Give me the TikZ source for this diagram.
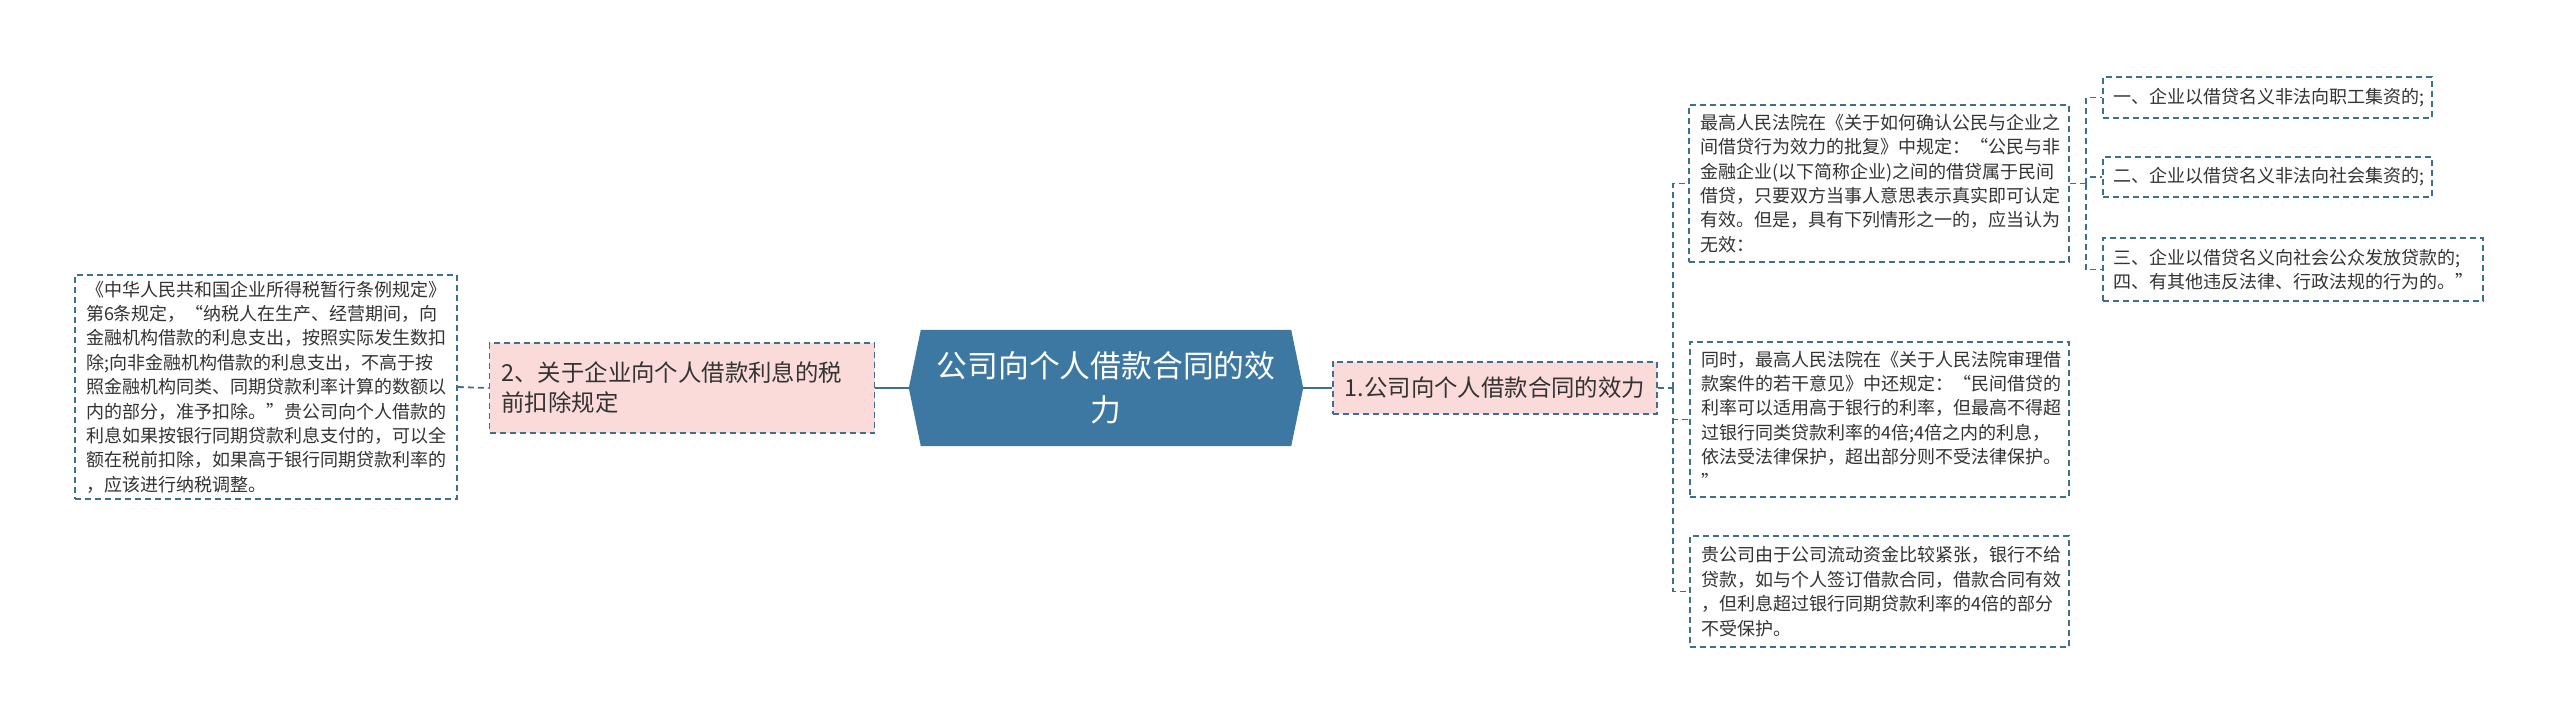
\documentclass[tikz,border=0pt]{standalone}
\usepackage{fontspec}
\setmainfont{Noto Sans CJK SC}
\usetikzlibrary{backgrounds}
\definecolor{linec}{HTML}{3D6F8E}
\definecolor{hexc}{HTML}{3D78A2}
\definecolor{pinkc}{HTML}{FADBDA}
\definecolor{textc}{HTML}{333333}
\tikzset{
  leaf/.style={draw=linec, dash pattern=on 6pt off 4pt, line width=1.8pt, fill=white,
    inner xsep=11pt, inner ysep=0pt, align=left, text=textc,
    font=\fontsize{18}{24.4}\selectfont},
  midbox/.style={draw=linec, dash pattern=on 6pt off 4pt, line width=1.8pt, fill=pinkc,
    inner xsep=12pt, inner ysep=0pt, align=left, text=textc,
    font=\fontsize{23.4}{30}\selectfont},
  dl/.style={draw=linec, dash pattern=on 6pt off 4pt, line width=1.8pt},
  sl/.style={draw=linec, line width=2.2pt},
}
\begin{document}
\begin{tikzpicture}[x=1pt,y=-1pt]
\useasboundingbox (0,0) rectangle (2560,725);
% left leaf
\node[leaf, minimum width=382pt, minimum height=224pt, text width=360pt] (L) at (266,387) {%
《中华人民共和国企业所得税暂行条例规定》\\
第6条规定，“纳税人在生产、经营期间，向\\
金融机构借款的利息支出，按照实际发生数扣\\
除;向非金融机构借款的利息支出，不高于按\\
照金融机构同类、同期贷款利率计算的数额以\\
内的部分，准予扣除。”贵公司向个人借款的\\
利息如果按银行同期贷款利息支付的，可以全\\
额在税前扣除，如果高于银行同期贷款利率的\\
，应该进行纳税调整。};
% node 2
\node[midbox, minimum width=385pt, minimum height=90pt, text width=361pt] (n2) at (682,388) {%
2、关于企业向个人借款利息的税\\前扣除规定};
% hexagon centre
\node[inner sep=0pt, minimum width=394pt, minimum height=116pt, text=white, align=center,
  font=\fontsize{30.8}{44}\selectfont] (hex) at (1106,388) {公司向个人借款合同的效\\力};
\begin{pgfonlayer}{background}
\fill[hexc] (hex.west) -- ([xshift=12pt]hex.north west) -- ([xshift=-12pt]hex.north east)
  -- (hex.east) -- ([xshift=-12pt]hex.south east) -- ([xshift=12pt]hex.south west) -- cycle;
\end{pgfonlayer}
% node 1
\node[midbox, minimum width=320pt, minimum height=52pt, align=center] (n1) at (1495,388) {1.公司向个人借款合同的效力};
% right leaves
\node[leaf, minimum width=380pt, minimum height=157pt, text width=358pt] (A) at (1879,183.5) {%
最高人民法院在《关于如何确认公民与企业之\\
间借贷行为效力的批复》中规定：“公民与非\\
金融企业(以下简称企业)之间的借贷属于民间\\
借贷，只要双方当事人意思表示真实即可认定\\
有效。但是，具有下列情形之一的，应当认为\\
无效：};
\node[leaf, minimum width=379pt, minimum height=155pt, text width=357pt] (B) at (1879.5,419.5) {%
同时，最高人民法院在《关于人民法院审理借\\
款案件的若干意见》中还规定：“民间借贷的\\
利率可以适用高于银行的利率，但最高不得超\\
过银行同类贷款利率的4倍;4倍之内的利息，\\
依法受法律保护，超出部分则不受法律保护。\\
”};
\node[leaf, minimum width=379pt, minimum height=111pt, text width=357pt] (C) at (1879.5,591.5) {%
贵公司由于公司流动资金比较紧张，银行不给\\
贷款，如与个人签订借款合同，借款合同有效\\
，但利息超过银行同期贷款利率的4倍的部分\\
不受保护。};
% sub leaves
\node[leaf, minimum width=329pt, minimum height=41pt, text width=309pt, inner xsep=10pt] (S1) at (2267.5,97.5) {一、企业以借贷名义非法向职工集资的;};
\node[leaf, minimum width=329pt, minimum height=40pt, text width=309pt, inner xsep=10pt] (S2) at (2267.5,177) {二、企业以借贷名义非法向社会集资的;};
\node[leaf, minimum width=380pt, minimum height=63pt, text width=360pt, inner xsep=10pt] (S3) at (2293,269.5) {三、企业以借贷名义向社会公众发放贷款的;\\四、有其他违反法律、行政法规的行为的。”};
% connectors
\draw[dl] (L.east) -- (n2.west);
\draw[sl] (n2.east) -- (hex.west);
\draw[sl] (hex.east) -- (n1.west);
\coordinate (b1) at (1673,388);
\draw[dl] (n1.east) -- (b1);
\draw[dl] (b1) |- (A.west);
\draw[dl] (b1) |- (B.west);
\draw[dl] (b1) |- (C.west);
\coordinate (b2) at (2086,183.5);
\draw[dl] (A.east) -- (b2);
\draw[dl] (b2) |- (S1.west);
\draw[dl] (b2) |- (S2.west);
\draw[dl] (b2) |- (S3.west);
\end{tikzpicture}
\end{document}
